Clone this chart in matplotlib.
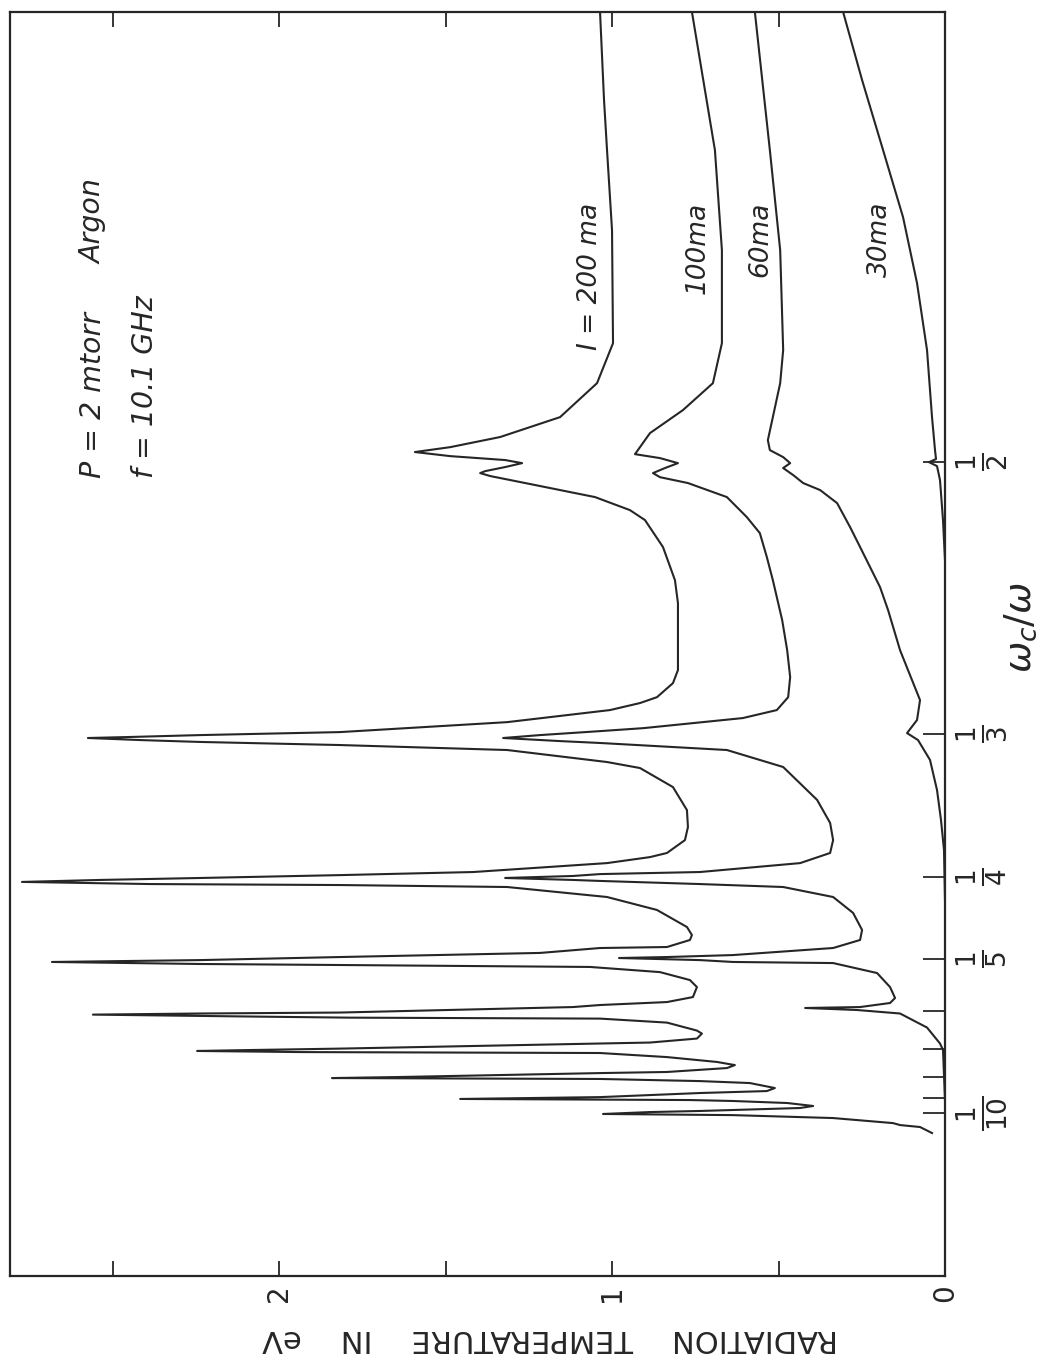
import numpy as np
import matplotlib
matplotlib.use("Agg")
import matplotlib.pyplot as plt

plt.rcParams['font.family'] = ['DejaVu Sans']
plt.rcParams['mathtext.fontset'] = 'dejavusans'

# omega_c/omega and radiation temperature in eV
w_200 = [0.7757, 0.7217, 0.6911, 0.6421, 0.5728, 0.5483, 0.5275, 0.5153, 0.5091, 0.5061,
         0.5036, 0.5012, 0.4993, 0.4969, 0.4944, 0.4932, 0.4914, 0.4865, 0.4785, 0.4705,
         0.4644, 0.4479, 0.4276, 0.4135, 0.3725, 0.3645, 0.3559, 0.3523, 0.3480, 0.3406,
         0.3345, 0.3327, 0.3316, 0.3310, 0.3298, 0.3287, 0.3269, 0.3240, 0.3170, 0.3135,
         0.3024, 0.2890, 0.2791, 0.2715, 0.2640, 0.2616, 0.2581, 0.2529, 0.2511, 0.2494,
         0.2482, 0.2470, 0.2457, 0.2451, 0.2439, 0.2378, 0.2299, 0.2195, 0.2146, 0.2116,
         0.2073, 0.2067, 0.2037, 0.2012, 0.1993, 0.1981, 0.1968, 0.1961, 0.1949, 0.1916,
         0.1865, 0.1820, 0.1756, 0.1724, 0.1705, 0.1692, 0.1657, 0.1651, 0.1644, 0.1632,
         0.1625, 0.1619, 0.1594, 0.1544, 0.1525, 0.1494, 0.1469, 0.1463, 0.1431, 0.1422,
         0.1416, 0.1409, 0.1403, 0.1377, 0.1346, 0.1326, 0.1307, 0.1282, 0.1275, 0.1250,
         0.1243, 0.1237, 0.1223, 0.1210, 0.1177, 0.1157, 0.1144, 0.1117, 0.1104, 0.1096,
         0.1089, 0.1074, 0.1052, 0.1037, 0.1015, 0.1007, 0.0994, 0.0987, 0.0969, 0.0938,
         0.0926, 0.0914, 0.0877]
T_200 = [1.036, 1.024, 1.015, 1.000, 0.997, 1.045, 1.156, 1.336, 1.486, 1.592,
         1.486, 1.321, 1.270, 1.321, 1.381, 1.396, 1.366, 1.246, 1.051, 0.946,
         0.901, 0.847, 0.811, 0.802, 0.802, 0.817, 0.865, 0.916, 1.006, 1.315,
         1.817, 2.237, 2.447, 2.574, 2.417, 2.237, 1.817, 1.315, 1.015, 0.916,
         0.817, 0.775, 0.772, 0.781, 0.835, 0.886, 1.015, 1.417, 1.817, 2.237,
         2.538, 2.772, 2.387, 1.817, 1.315, 1.015, 0.865, 0.775, 0.760, 0.766,
         0.835, 1.036, 1.216, 1.817, 2.237, 2.682, 2.237, 1.787, 1.066, 0.856,
         0.766, 0.745, 0.757, 0.835, 1.036, 1.117, 1.817, 2.237, 2.559, 2.087,
         1.787, 1.036, 0.835, 0.745, 0.730, 0.745, 0.886, 1.036, 1.817, 2.087,
         2.246, 1.937, 1.036, 0.835, 0.685, 0.631, 0.655, 0.835, 1.036, 1.637,
         1.841, 1.036, 0.736, 0.586, 0.511, 0.535, 0.736, 1.036, 1.456, 0.766,
         0.637, 0.474, 0.396, 0.435, 0.736, 0.886, 1.027, 0.637, 0.336, 0.156,
         0.135, 0.075, 0.039]

w_100 = [0.7757, 0.6911, 0.6298, 0.5728, 0.5483, 0.5318, 0.5177, 0.5048, 0.5024, 0.4993,
         0.4963, 0.4932, 0.4907, 0.4871, 0.4785, 0.4662, 0.4564, 0.4417, 0.4276, 0.4031,
         0.3847, 0.3682, 0.3559, 0.3480, 0.3431, 0.3400, 0.3369, 0.3351, 0.3327, 0.3310,
         0.3292, 0.3281, 0.3240, 0.3141, 0.2949, 0.2815, 0.2715, 0.2640, 0.2581, 0.2529,
         0.2517, 0.2506, 0.2494, 0.2482, 0.2476, 0.2457, 0.2439, 0.2378, 0.2281, 0.2177,
         0.2116, 0.2067, 0.2024, 0.2012, 0.2006, 0.1993, 0.1981, 0.1974, 0.1910, 0.1820,
         0.1750, 0.1718, 0.1692, 0.1686, 0.1673, 0.1651, 0.1563, 0.1463, 0.1422, 0.1096]
T_100 = [0.760, 0.691, 0.670, 0.670, 0.697, 0.787, 0.886, 0.931, 0.856, 0.802,
         0.841, 0.877, 0.856, 0.772, 0.655, 0.595, 0.556, 0.535, 0.517, 0.489,
         0.474, 0.465, 0.471, 0.505, 0.607, 0.757, 0.907, 1.036, 1.216, 1.327,
         1.156, 1.036, 0.655, 0.486, 0.384, 0.345, 0.336, 0.345, 0.435, 0.736,
         1.036, 1.117, 1.321, 1.117, 1.036, 0.736, 0.486, 0.336, 0.276, 0.249,
         0.255, 0.336, 0.637, 0.835, 0.979, 0.736, 0.637, 0.336, 0.204, 0.165,
         0.150, 0.165, 0.255, 0.420, 0.264, 0.135, 0.054, 0.015, 0.006, 0.000]

w_60 = [0.7757, 0.6911, 0.6298, 0.5686, 0.5483, 0.5275, 0.5134, 0.5073, 0.5030, 0.4993,
        0.4963, 0.4920, 0.4871, 0.4828, 0.4748, 0.4601, 0.4479, 0.4356, 0.4233, 0.4093,
        0.3847, 0.3541, 0.3419, 0.3339, 0.3298, 0.3182, 0.3007, 0.2832, 0.2657, 0.2360]
T_60 = [0.571, 0.526, 0.495, 0.486, 0.495, 0.517, 0.532, 0.526, 0.486, 0.465,
        0.486, 0.456, 0.426, 0.375, 0.324, 0.285, 0.255, 0.225, 0.195, 0.171,
        0.135, 0.075, 0.084, 0.114, 0.081, 0.045, 0.024, 0.012, 0.003, 0.000]

w_30 = [0.7757, 0.7340, 0.6911, 0.6500, 0.6096, 0.5686, 0.5275, 0.5073, 0.5018, 0.4999,
        0.4975, 0.4889, 0.4644, 0.4399]
T_30 = [0.306, 0.249, 0.186, 0.126, 0.084, 0.054, 0.039, 0.030, 0.027, 0.048,
        0.024, 0.015, 0.006, 0.000]

w_ticks = [1/10, 1/9, 1/8, 1/7, 1/6, 1/5, 1/4, 1/3, 1/2]
w_labels = [r'$\frac{1}{10}$', '', '', '', '', r'$\frac{1}{5}$', r'$\frac{1}{4}$',
            r'$\frac{1}{3}$', r'$\frac{1}{2}$']
T_ticks = [0, 0.5, 1, 1.5, 2, 2.5]
T_labels = ['0', '', '1', '', '2', '']

# the hand drawn omega_c/omega axis is not quite linear: map it through its ticks
axis_w = [0, 0.1, 1/9, 1/8, 1/7, 1/6, 1/5, 1/4, 1/3, 1/2, 0.7757]
axis_u = [0, 163, 178, 199, 227, 265, 317, 399, 542, 814, 1264]

def fwd(w):
    return np.interp(w, axis_w, axis_u)

def inv(u):
    return np.interp(u, axis_u, axis_w)

ink = '#262626'

fig = plt.figure(figsize=(10.41, 13.58), dpi=100)
ax = fig.add_axes([10/1041, 82/1358, 935/1041, 1264/1358])
ax.set_yscale('function', functions=(fwd, inv))

for T, w in [(T_200, w_200), (T_100, w_100), (T_60, w_60), (T_30, w_30)]:
    ax.plot(T, w, color=ink, lw=1.5, solid_joinstyle='round')

ax.set_xlim(2.808, 0)
ax.set_ylim(0, 0.7757)

for s in ax.spines.values():
    s.set_linewidth(1.6)
    s.set_color(ink)

ax.set_xticks(T_ticks)
ax.set_xticklabels(T_labels, rotation=90)
ax.tick_params(axis='x', direction='in', length=11, width=1.3, top=True, bottom=True,
               labelsize=20, pad=6, colors=ink)

ax.yaxis.tick_right()
ax.set_yticks(w_ticks)
ax.set_yticklabels(w_labels)
ax.tick_params(axis='y', direction='in', length=16, width=1.3, left=False, right=True,
               labelright=True, labelleft=False, labelsize=27, pad=7, colors=ink)
for lab in ax.get_yticklabels():
    lab.set_rotation(90)
    lab.set_va('center')

# curve labels, rotated with the figure
kw = dict(transform=ax.transAxes, rotation=90, fontsize=19, style='oblique', color=ink)
ax.text(0.620, 0.849, 'I = 200 ma', ha='center', va='top', **kw)
ax.text(0.735, 0.850, '100ma', ha='center', va='top', **kw)
ax.text(0.802, 0.850, '60ma', ha='center', va='top', **kw)
ax.text(0.930, 0.850, '30ma', ha='center', va='top', **kw)

kw['fontsize'] = 20.5
ax.text(0.089, 0.631, 'P = 2 mtorr', ha='center', va='bottom', **kw)
ax.text(0.089, 0.801, 'Argon', ha='center', va='bottom', **kw)
ax.text(0.144, 0.631, 'f = 10.1 GHz', ha='center', va='bottom', **kw)

fig.text(1021/1041, 1 - 627/1358, r'$\omega_c/\omega$', rotation=90, ha='center',
         va='center', fontsize=27, color=ink)
fig.text(550/1041, 1 - 1339/1358, 'RADIATION    TEMPERATURE    IN    eV', rotation=180,
         ha='center', va='center', fontsize=22, color=ink)

fig.savefig('out.png', dpi=100, facecolor='white')
